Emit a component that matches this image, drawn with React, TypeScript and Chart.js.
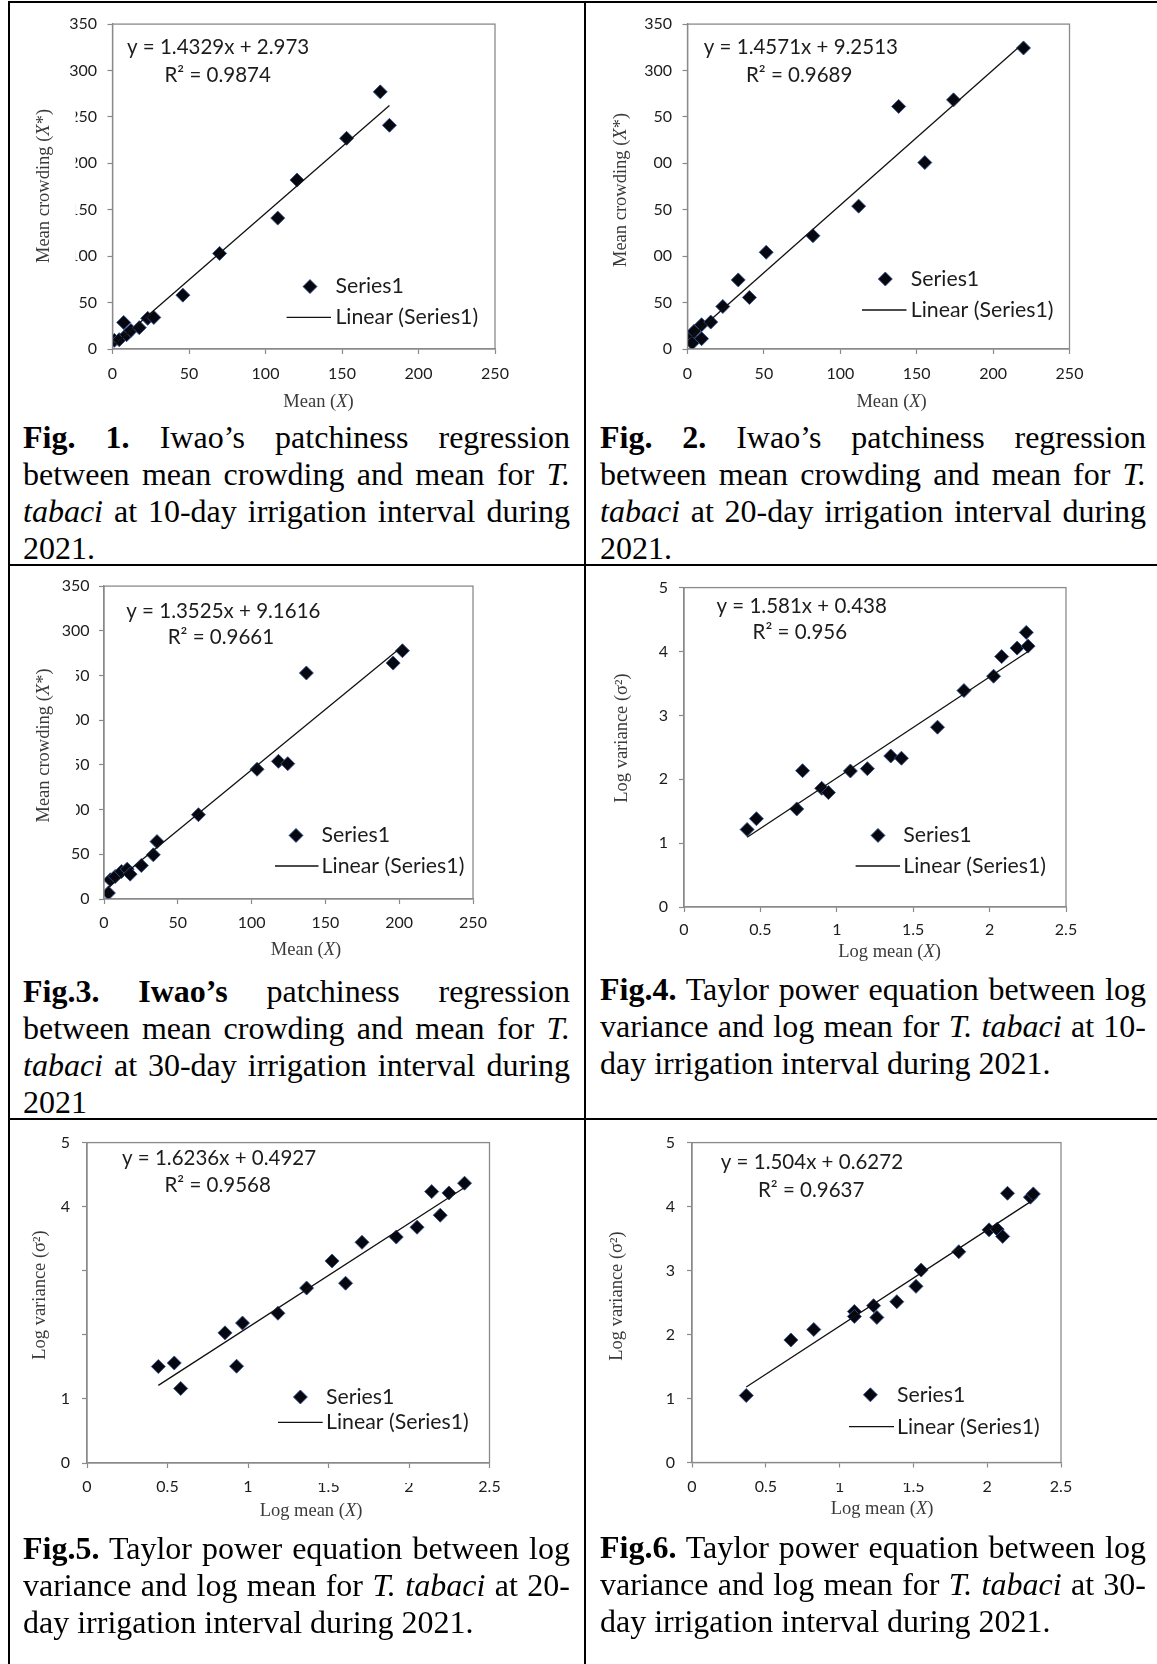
import React, { useEffect, useRef } from "react";
import { Chart, registerables } from "chart.js";

Chart.register(...registerables);

// ---------- tick labels ----------
const meanTicks = [0, 50, 100, 150, 200, 250];
const crowdTicks = [0, 50, 100, 150, 200, 250, 300, 350];
const logMeanTicks = [0, 0.5, 1, 1.5, 2, 2.5];
const logVarTicks = [0, 1, 2, 3, 4, 5];

// ---------- Fig. 1 (10-day, Iwao) ----------
const fig1Mean = [1.2, 4.4, 7.3, 9.2, 12, 17.5, 23, 27, 46, 70, 108, 120.6, 153, 175, 181];
const fig1Crowd = [9.3, 10, 28.6, 15.4, 20, 23, 33, 34, 58, 103, 141, 182, 227, 277, 241];
const fig1Fit = [1.4329, 2.973];
const fig1Eq = "y = 1.4329x + 2.973";
const fig1R2 = "R² = 0.9874";

// ---------- Fig. 2 (20-day, Iwao) ----------
const fig2Mean = [1.9, 3.1, 4.3, 9.2, 9.2, 15.2, 23.1, 33.2, 40.5, 51.5, 82.1, 112, 138.2, 155.3, 174.1, 219.9];
const fig2Crowd = [13.6, 6.4, 19, 26.1, 11.1, 29, 45.8, 74.4, 55.5, 104.2, 122, 153.9, 261.3, 200.8, 268.4, 324.3];
const fig2Fit = [1.4571, 9.2513];
const fig2Eq = "y = 1.4571x + 9.2513";
const fig2R2 = "R² = 0.9689";

// ---------- Fig. 3 (30-day, Iwao) ----------
const fig3Mean = [3, 4.3, 7.6, 11.9, 15.7, 17.7, 25.3, 33.4, 35.9, 64, 103.7, 118.2, 124.5, 137.1, 195.9, 202.2];
const fig3Crowd = [6.7, 21.5, 25.2, 30.8, 33.4, 27.8, 37.5, 49.4, 64.2, 94.3, 145.1, 154, 151.4, 252.8, 263.9, 277.7];
const fig3Fit = [1.3525, 9.1616];
const fig3Eq = "y = 1.3525x + 9.1616";
const fig3R2 = "R² = 0.9661";

// ---------- Fig. 4 (10-day, Taylor) ----------
const fig4LogMean = [0.413, 0.474, 0.738, 0.776, 0.901, 0.945, 1.089, 1.2, 1.353, 1.423, 1.659, 1.832, 2.026, 2.079, 2.18, 2.24, 2.252];
const fig4LogVar = [1.213, 1.382, 1.535, 2.134, 1.858, 1.791, 2.129, 2.165, 2.364, 2.329, 2.815, 3.388, 3.613, 3.92, 4.053, 4.299, 4.084];
const fig4Fit = [1.581, 0.438];
const fig4Eq = "y = 1.581x + 0.438";
const fig4R2 = "R² = 0.956";

// ---------- Fig. 5 (20-day, Taylor) ----------
const fig5LogMean = [0.443, 0.542, 0.582, 0.857, 0.929, 0.966, 1.186, 1.364, 1.522, 1.606, 1.708, 1.921, 2.05, 2.141, 2.194, 2.248, 2.345];
const fig5LogVar = [1.505, 1.561, 1.163, 2.031, 1.51, 2.184, 2.337, 2.73, 3.153, 2.806, 3.444, 3.526, 3.679, 4.235, 3.867, 4.214, 4.367];
const fig5Fit = [1.6236, 0.4927];
const fig5Eq = "y = 1.6236x + 0.4927";
const fig5R2 = "R² = 0.9568";

// ---------- Fig. 6 (30-day, Taylor) ----------
const fig6LogMean = [0.3675, 0.67, 0.825, 1.1, 1.1, 1.23, 1.2525, 1.3875, 1.5175, 1.5525, 1.8075, 2.0125, 2.0675, 2.105, 2.1375, 2.2925, 2.3125];
const fig6LogVar = [1.047, 1.915, 2.079, 2.36, 2.283, 2.451, 2.268, 2.513, 2.753, 3.008, 3.294, 3.636, 3.647, 3.534, 4.208, 4.147, 4.198];
const fig6Fit = [1.504, 0.6272];
const fig6Eq = "y = 1.504x + 0.6272";
const fig6R2 = "R² = 0.9637";

const seriesLabel = "Series1";
const trendLabel = "Linear (Series1)";

// ---------- styles ----------
const SERIF = '"Liberation Serif", "Times New Roman", Times, serif';
const SANS = 'Lato, "Open Sans", sans-serif';
const AXIS = "#8a8a8a";
const MARK = "#07070f";
const MARK_EDGE = "rgba(50,80,140,0.9)";
const TEXT = "#1c1c1c";
const TITLE = "#3a3a3a";
const TITLE_SIZE = 18.5;
const EQ_SIZE = 20.5;
const LEG_SIZE = 21.3;
const MARK_R = 7;

type Run = { t: string; italic?: boolean };
const meanTitle: Run[] = [{ t: "Mean (" }, { t: "X", italic: true }, { t: ")" }];
const crowdTitle: Run[] = [{ t: "Mean crowding (" }, { t: "X", italic: true }, { t: "*)" }];
const logMeanTitle: Run[] = [{ t: "Log mean (" }, { t: "X", italic: true }, { t: ")" }];
const logVarTitle: Run[] = [{ t: "Log variance (σ²)" }];

type Box = { x: number; y: number; w: number; h: number };
type Spec = {
  xs: number[]; ys: number[]; fit: number[]; eq: string; r2: string;
  xTicks: number[]; yTicks: number[]; xTitle: Run[]; yTitle: Run[];
  canvas: Box;
  plot: { l: number; r: number; t: number; b: number };
  yPad: number; xPad: number;
  xT: { cx: number; cy: number }; yT: { cx: number; cy: number; boxR: number };
  eqPos: { x: number; y: number }; r2Pos: { x: number; y: number };
  leg: { mx: number; my: number; tx: number; lx0: number; lx1: number; ly: number };
  xMask?: { x0: number; x1: number; y0: number; y1: number };
};

const specs: Spec[] = [
  {
    xs: fig1Mean, ys: fig1Crowd, fit: fig1Fit, eq: fig1Eq, r2: fig1R2,
    xTicks: meanTicks, yTicks: crowdTicks, xTitle: meanTitle, yTitle: crowdTitle,
    canvas: { x: 11, y: 4, w: 572, h: 410 },
    plot: { l: 112.5, r: 495, t: 23.4, b: 349 }, yPad: 10.5, xPad: 10.4,
    xT: { cx: 318.5, cy: 402 }, yT: { cx: 44.6, cy: 186, boxR: 31 },
    eqPos: { x: 127, y: 47.8 }, r2Pos: { x: 164.5, y: 75.4 },
    leg: { mx: 310, my: 286.6, tx: 335.4, lx0: 286.6, lx1: 331, ly: 317.4 },
  },
  {
    xs: fig2Mean, ys: fig2Crowd, fit: fig2Fit, eq: fig2Eq, r2: fig2R2,
    xTicks: meanTicks, yTicks: crowdTicks, xTitle: meanTitle, yTitle: crowdTitle,
    canvas: { x: 587, y: 4, w: 570, h: 410 },
    plot: { l: 687.5, r: 1069.5, t: 23.4, b: 349 }, yPad: 10.5, xPad: 10.4,
    xT: { cx: 891.6, cy: 402 }, yT: { cx: 621, cy: 190, boxR: 33 },
    eqPos: { x: 703.8, y: 47.8 }, r2Pos: { x: 746, y: 75.4 },
    leg: { mx: 885.3, my: 279, tx: 910.8, lx0: 862, lx1: 906.5, ly: 310 },
  },
  {
    xs: fig3Mean, ys: fig3Crowd, fit: fig3Fit, eq: fig3Eq, r2: fig3R2,
    xTicks: meanTicks, yTicks: crowdTicks, xTitle: meanTitle, yTitle: crowdTitle,
    canvas: { x: 11, y: 567, w: 572, h: 400 },
    plot: { l: 104, r: 473, t: 585, b: 899 }, yPad: 9.5, xPad: 9.4,
    xT: { cx: 306, cy: 950 }, yT: { cx: 44, cy: 745.5, boxR: 32 },
    eqPos: { x: 126.3, y: 611.4 }, r2Pos: { x: 167.7, y: 637 },
    leg: { mx: 296, my: 835.4, tx: 321.6, lx0: 275, lx1: 318.5, ly: 866 },
  },
  {
    xs: fig4LogMean, ys: fig4LogVar, fit: fig4Fit, eq: fig4Eq, r2: fig4R2,
    xTicks: logMeanTicks, yTicks: logVarTicks, xTitle: logMeanTitle, yTitle: logVarTitle,
    canvas: { x: 587, y: 567, w: 570, h: 400 },
    plot: { l: 684, r: 1066, t: 581, b: 907 }, yPad: 11, xPad: 8.4,
    xT: { cx: 889.6, cy: 952 }, yT: { cx: 622, cy: 738, boxR: 30 },
    eqPos: { x: 716.5, y: 606 }, r2Pos: { x: 752.6, y: 632.7 },
    leg: { mx: 878, my: 835.4, tx: 903.3, lx0: 855.6, lx1: 900, ly: 866 },
  },
  {
    xs: fig5LogMean, ys: fig5LogVar, fit: fig5Fit, eq: fig5Eq, r2: fig5R2,
    xTicks: logMeanTicks, yTicks: logVarTicks, xTitle: logMeanTitle, yTitle: logVarTitle,
    canvas: { x: 11, y: 1121, w: 572, h: 410 },
    plot: { l: 87, r: 489.5, t: 1136, b: 1463 }, yPad: 12, xPad: 9.4,
    xT: { cx: 311, cy: 1511.6 }, yT: { cx: 40.3, cy: 1295, boxR: 33 },
    eqPos: { x: 122, y: 1158 }, r2Pos: { x: 164.5, y: 1185.7 },
    leg: { mx: 300.4, my: 1397, tx: 326, lx0: 278, lx1: 322.7, ly: 1422.4 },
    xMask: { x0: 256, x1: 420, y0: 1468, y1: 1483 },
  },
  {
    xs: fig6LogMean, ys: fig6LogVar, fit: fig6Fit, eq: fig6Eq, r2: fig6R2,
    xTicks: logMeanTicks, yTicks: logVarTicks, xTitle: logMeanTitle, yTitle: logVarTitle,
    canvas: { x: 587, y: 1121, w: 570, h: 410 },
    plot: { l: 692, r: 1061, t: 1136, b: 1462.5 }, yPad: 12, xPad: 9.4,
    xT: { cx: 882, cy: 1509.5 }, yT: { cx: 617, cy: 1296, boxR: 30 },
    eqPos: { x: 720.8, y: 1162.4 }, r2Pos: { x: 758, y: 1190 },
    leg: { mx: 870.4, my: 1394.8, tx: 897, lx0: 849, lx1: 894, ly: 1426.7 },
    xMask: { x0: 836, x1: 940, y0: 1468, y1: 1483 },
  },
];

function runFont(r: Run) {
  return `${r.italic ? "italic " : ""}${TITLE_SIZE}px ${SERIF}`;
}
function measureRuns(ctx: CanvasRenderingContext2D, runs: Run[]) {
  return runs.map((r) => {
    ctx.font = runFont(r);
    return ctx.measureText(r.t).width;
  });
}
function drawRuns(ctx: CanvasRenderingContext2D, runs: Run[], cx: number, cy: number) {
  const ws = measureRuns(ctx, runs);
  const total = ws.reduce((a, b) => a + b, 0);
  let x = cx - total / 2;
  ctx.textAlign = "left";
  ctx.textBaseline = "middle";
  runs.forEach((r, i) => {
    ctx.font = runFont(r);
    ctx.fillText(r.t, x, cy);
    x += ws[i];
  });
  return total;
}

function diamond(ctx: CanvasRenderingContext2D, x: number, y: number, r: number) {
  ctx.beginPath();
  ctx.moveTo(x, y - r);
  ctx.lineTo(x + r, y);
  ctx.lineTo(x, y + r);
  ctx.lineTo(x - r, y);
  ctx.closePath();
  ctx.fillStyle = MARK;
  ctx.fill();
  ctx.lineWidth = 1;
  ctx.strokeStyle = MARK_EDGE;
  ctx.stroke();
}

function buildConfig(s: Spec): any {
  const ox = s.canvas.x;
  const oy = s.canvas.y;
  const pts = s.xs.map((x, i) => ({ x, y: s.ys[i] }));
  const minX = Math.min(...s.xs);
  const maxX = Math.max(...s.xs);
  const trend = [minX, maxX].map((x) => ({ x, y: s.fit[0] * x + s.fit[1] }));

  const decor = {
    id: "decor",
    afterDraw(chart: any) {
      const ctx: CanvasRenderingContext2D = chart.ctx;
      const a = chart.chartArea;
      ctx.save();
      ctx.strokeStyle = AXIS;
      ctx.lineWidth = 1.3;
      ctx.strokeRect(a.left, a.top, a.right - a.left, a.bottom - a.top);

      if (s.xMask) {
        ctx.fillStyle = "#fff";
        ctx.fillRect(s.xMask.x0 - ox, s.xMask.y0 - oy, s.xMask.x1 - s.xMask.x0, s.xMask.y1 - s.xMask.y0);
      }

      ctx.fillStyle = TITLE;
      drawRuns(ctx, s.xTitle, s.xT.cx - ox, s.xT.cy - oy);

      const yw = measureRuns(ctx, s.yTitle).reduce((p, q) => p + q, 0);
      ctx.save();
      ctx.translate(s.yT.cx - ox, s.yT.cy - oy);
      ctx.rotate(-Math.PI / 2);
      ctx.fillStyle = "#fff";
      ctx.fillRect(-yw / 2 - 6, -14, yw + 12, 14 + s.yT.boxR);
      ctx.fillStyle = TITLE;
      drawRuns(ctx, s.yTitle, 0, 0);
      ctx.restore();

      ctx.fillStyle = TEXT;
      ctx.font = `${EQ_SIZE}px ${SANS}`;
      ctx.textAlign = "left";
      ctx.textBaseline = "middle";
      ctx.fillText(s.eq, s.eqPos.x - ox, s.eqPos.y - oy);
      ctx.fillText(s.r2, s.r2Pos.x - ox, s.r2Pos.y - oy);

      diamond(ctx, s.leg.mx - ox, s.leg.my - oy, MARK_R);
      ctx.fillStyle = TEXT;
      ctx.font = `${LEG_SIZE}px ${SANS}`;
      ctx.fillText(seriesLabel, s.leg.tx - ox, s.leg.my - oy);
      ctx.beginPath();
      ctx.moveTo(s.leg.lx0 - ox, s.leg.ly - oy);
      ctx.lineTo(s.leg.lx1 - ox, s.leg.ly - oy);
      ctx.strokeStyle = "#111";
      ctx.lineWidth = 1.3;
      ctx.stroke();
      ctx.fillText(trendLabel, s.leg.tx - ox, s.leg.ly - oy);
      ctx.restore();
    },
  };

  const grid = {
    display: true,
    drawOnChartArea: false,
    drawTicks: true,
    tickLength: 5,
    tickColor: AXIS,
    tickWidth: 1.2,
    color: AXIS,
  };
  const border = { display: true, color: AXIS, width: 1.3 };
  const tickFont = { family: SANS, size: 16 };

  return {
    type: "scatter",
    data: {
      datasets: [
        {
          label: seriesLabel,
          data: pts,
          pointStyle: "rectRot",
          pointRadius: MARK_R,
          pointHoverRadius: MARK_R,
          backgroundColor: MARK,
          borderColor: MARK_EDGE,
          borderWidth: 1,
          order: 2,
        },
        {
          label: trendLabel,
          data: trend,
          showLine: true,
          pointRadius: 0,
          borderColor: "#111",
          borderWidth: 1.3,
          order: 1,
        },
      ],
    },
    options: {
      responsive: false,
      animation: false,
      devicePixelRatio: 1,
      events: [],
      layout: {
        padding: { top: s.plot.t - oy, right: ox + s.canvas.w - s.plot.r, left: 0, bottom: 0 },
      },
      plugins: { legend: { display: false }, tooltip: { enabled: false }, title: { display: false } },
      scales: {
        x: {
          type: "linear",
          position: "bottom",
          min: s.xTicks[0],
          max: s.xTicks[s.xTicks.length - 1],
          afterBuildTicks: (sc: any) => {
            sc.ticks = s.xTicks.map((v) => ({ value: v }));
          },
          afterFit: (sc: any) => {
            sc.height = oy + s.canvas.h - s.plot.b;
          },
          ticks: {
            font: tickFont,
            color: TEXT,
            padding: s.xPad,
            maxRotation: 0,
            autoSkip: false,
            callback: (v: any) => String(v),
          },
          grid,
          border,
          title: { display: false },
        },
        y: {
          type: "linear",
          position: "left",
          min: s.yTicks[0],
          max: s.yTicks[s.yTicks.length - 1],
          afterBuildTicks: (sc: any) => {
            sc.ticks = s.yTicks.map((v) => ({ value: v }));
          },
          afterFit: (sc: any) => {
            sc.width = s.plot.l - ox;
          },
          ticks: {
            font: tickFont,
            color: TEXT,
            padding: s.yPad,
            autoSkip: false,
            callback: (v: any) => String(v),
          },
          grid,
          border,
          title: { display: false },
        },
      },
    },
    plugins: [decor],
  };
}

function Panel({ spec }: { spec: Spec }) {
  const ref = useRef<HTMLCanvasElement>(null);
  useEffect(() => {
    const chart = new Chart(ref.current as HTMLCanvasElement, buildConfig(spec));
    return () => chart.destroy();
  }, [spec]);
  const c = spec.canvas;
  return (
    <canvas
      ref={ref}
      width={c.w}
      height={c.h}
      style={{ position: "absolute", left: c.x, top: c.y, width: c.w, height: c.h }}
    />
  );
}

type Line = { content: React.ReactNode; justify: boolean };

const captions: { x: number; y: number; w: number; lines: Line[] }[] = [
  {
    x: 23, y: 418.5, w: 547,
    lines: [
      { content: <><b>Fig. 1.</b> Iwao’s patchiness regression</>, justify: true },
      { content: <>between mean crowding and mean for <i>T.</i></>, justify: true },
      { content: <><i>tabaci</i> at 10-day irrigation interval during</>, justify: true },
      { content: <>2021.</>, justify: false },
    ],
  },
  {
    x: 600, y: 418.5, w: 546,
    lines: [
      { content: <><b>Fig. 2.</b> Iwao’s patchiness regression</>, justify: true },
      { content: <>between mean crowding and mean for <i>T.</i></>, justify: true },
      { content: <><i>tabaci</i> at 20-day irrigation interval during</>, justify: true },
      { content: <>2021.</>, justify: false },
    ],
  },
  {
    x: 23, y: 972.6, w: 547,
    lines: [
      { content: <><b>Fig.3. Iwao’s</b> patchiness regression</>, justify: true },
      { content: <>between mean crowding and mean for <i>T.</i></>, justify: true },
      { content: <><i>tabaci</i> at 30-day irrigation interval during</>, justify: true },
      { content: <>2021</>, justify: false },
    ],
  },
  {
    x: 600, y: 970.5, w: 546,
    lines: [
      { content: <><b>Fig.4.</b> Taylor power equation between log</>, justify: true },
      { content: <>variance and log mean for <i>T. tabaci</i> at 10-</>, justify: true },
      { content: <>day irrigation interval during 2021.</>, justify: false },
    ],
  },
  {
    x: 23, y: 1529.9, w: 547,
    lines: [
      { content: <><b>Fig.5.</b> Taylor power equation between log</>, justify: true },
      { content: <>variance and log mean for <i>T. tabaci</i> at 20-</>, justify: true },
      { content: <>day irrigation interval during 2021.</>, justify: false },
    ],
  },
  {
    x: 600, y: 1528.9, w: 546,
    lines: [
      { content: <><b>Fig.6.</b> Taylor power equation between log</>, justify: true },
      { content: <>variance and log mean for <i>T. tabaci</i> at 30-</>, justify: true },
      { content: <>day irrigation interval during 2021.</>, justify: false },
    ],
  },
];

const rules: Box[] = [
  { x: 8, y: 1, w: 1160, h: 2 },
  { x: 8, y: 1, w: 2, h: 1670 },
  { x: 584, y: 1, w: 2, h: 1670 },
  { x: 8, y: 564, w: 1160, h: 2 },
  { x: 8, y: 1118, w: 1160, h: 2 },
];

export default function App() {
  return (
    <div
      style={{
        position: "absolute",
        left: 0,
        top: 0,
        width: 1157,
        height: 1664,
        overflow: "hidden",
        background: "#fff",
      }}
    >
      {rules.map((r, i) => (
        <div key={"r" + i} style={{ position: "absolute", left: r.x, top: r.y, width: r.w, height: r.h, background: "#000" }} />
      ))}
      {specs.map((s, i) => (
        <Panel key={"p" + i} spec={s} />
      ))}
      {captions.map((c, i) => (
        <div
          key={"c" + i}
          style={{
            position: "absolute",
            left: c.x,
            top: c.y,
            width: c.w,
            fontFamily: SERIF,
            fontSize: 32,
            lineHeight: "37.2px",
            color: "#000",
          }}
        >
          {c.lines.map((l, j) => (
            <div
              key={j}
              style={{
                textAlign: l.justify ? "justify" : "left",
                textAlignLast: l.justify ? "justify" : "left",
                height: 37.2,
              } as any}
            >
              {l.content}
            </div>
          ))}
        </div>
      ))}
    </div>
  );
}
